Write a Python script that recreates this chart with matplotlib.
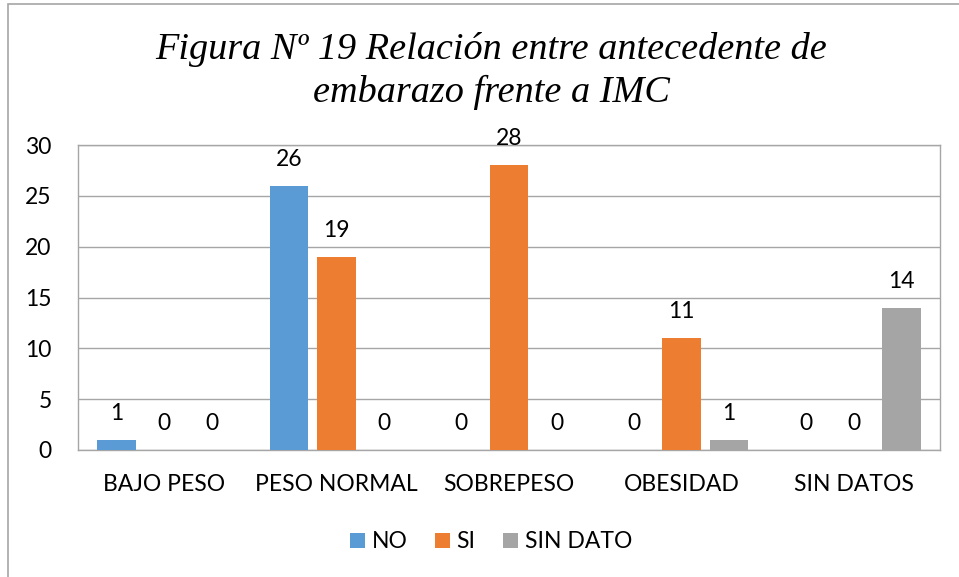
import matplotlib
matplotlib.use('Agg')
from matplotlib import pyplot as plt
from matplotlib.patches import Rectangle, Patch
import numpy as np

# Data
categorias = ['BAJO PESO', 'PESO NORMAL', 'SOBREPESO', 'OBESIDAD', 'SIN DATOS']
series = ['NO', 'SI', 'SIN DATO']
valores_no = [1, 26, 0, 0, 0]
valores_si = [0, 19, 28, 11, 0]
valores_sin_dato = [0, 0, 0, 1, 14]
colores = ['#5B9BD5', '#ED7D31', '#A5A5A5']

plt.rcParams['font.family'] = ['Lato', 'DejaVu Sans']
fs = 16.5

fig = plt.figure(figsize=(9.59, 5.77), dpi=100)
ax = fig.add_axes([78/959, (577-450)/577, (940-78)/959, (450-145)/577])

#Outer chart border
fig.patches.append(Rectangle((8/959, -0.01), 1.2, (577-4)/577 + 0.01, transform=fig.transFigure,
                             fill=False, edgecolor='#A6A6A6', linewidth=1.2))

x = np.arange(len(categorias))
ancho = 0.226
paso = 0.276
for i, (vals, col) in enumerate(zip([valores_no, valores_si, valores_sin_dato], colores)):
    pos = x + (i - 1) * paso
    ax.bar(pos, vals, width=ancho, color=col, zorder=3)
    for p, v in zip(pos, vals):
        ax.annotate(str(v), (p, v), xytext=(0, 19), textcoords='offset points',
                    ha='center', va='center', fontsize=fs)

ax.set_xlim(-0.5, len(categorias) - 0.5)
ax.set_ylim(0, 30)
ax.set_yticks(range(0, 31, 5))
ax.yaxis.grid(True, color='#A6A6A6', linewidth=1, zorder=0)
ax.set_xticks(x)
ax.set_xticklabels(categorias)
ax.tick_params(axis='both', length=0, labelsize=fs)
ax.tick_params(axis='y', pad=19)
ax.tick_params(axis='x', pad=17)
for s in ax.spines.values():
    s.set_color('#A6A6A6')
    s.set_linewidth(1)

fig.text(491/959, 1 - 71/577, 'Figura Nº 19 Relación entre antecedente de\nembarazo frente a IMC',
         ha='center', va='center', fontsize=27.5, fontstyle='italic',
         family='Liberation Serif', linespacing=1.32)

handles = [Patch(facecolor=c, edgecolor='none') for c in colores]
fig.legend(handles, series, loc='center', bbox_to_anchor=(491/959, 1 - 542/577), ncol=3,
           frameon=False, fontsize=fs, handlelength=0.65, handleheight=0.65,
           handletextpad=0.3, columnspacing=1.2)

fig.savefig('out.png', dpi=100)
